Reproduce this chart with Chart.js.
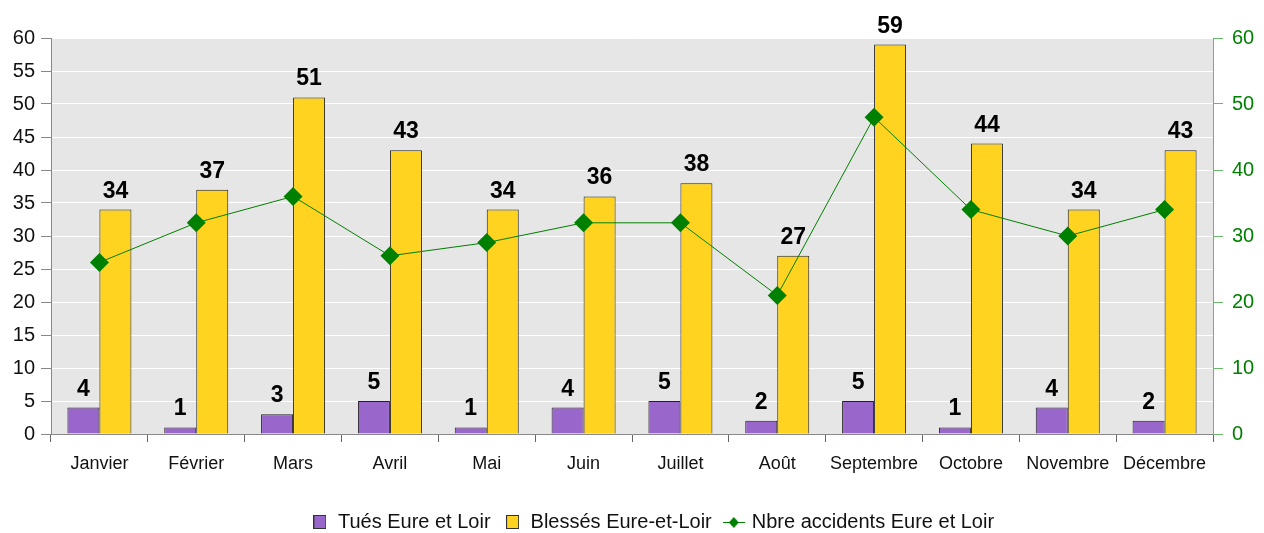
<!DOCTYPE html>
<html lang="fr">
<head>
    <meta charset="UTF-8">
    <title>Accidents Eure et Loir</title>
    <script src="https://cdn.jsdelivr.net/npm/chart.js"></script>
    <style>
        html, body {
            margin: 0;
            padding: 0;
            background: #ffffff;
        }
        #wrap {
            width: 1264px;
            height: 533px;
        }
    </style>
</head>
<body>
    <div id="wrap"><canvas id="chart"></canvas></div>

    <script>
        const months = ['Janvier', 'Février', 'Mars', 'Avril', 'Mai', 'Juin', 'Juillet', 'Août', 'Septembre', 'Octobre', 'Novembre', 'Décembre'];
        const tues = [4, 1, 3, 5, 1, 4, 5, 2, 5, 1, 4, 2];
        const blesses = [34, 37, 51, 43, 34, 36, 38, 27, 59, 44, 34, 43];
        const accidents = [26, 32, 36, 27, 29, 32, 32, 21, 48, 34, 30, 34];

        const FONT = '"Liberation Sans", Arial, sans-serif';
        const PURPLE = '#9966cc';
        const YELLOW = '#ffd320';
        const GREEN = '#008000';

        // small legend icons
        function boxIcon(color) {
            const c = document.createElement('canvas');
            c.width = 13; c.height = 14;
            const g = c.getContext('2d');
            g.fillStyle = color;
            g.fillRect(0, 0, 13, 14);
            g.strokeStyle = '#333';
            g.lineWidth = 1;
            g.strokeRect(0.5, 0.5, 12, 13);
            return c;
        }
        function lineIcon() {
            const c = document.createElement('canvas');
            c.width = 22; c.height = 14;
            const g = c.getContext('2d');
            g.strokeStyle = GREEN;
            g.lineWidth = 1;
            g.beginPath();
            g.moveTo(0, 7.5); g.lineTo(22, 7.5);
            g.stroke();
            g.fillStyle = GREEN;
            g.beginPath();
            g.moveTo(11, 2); g.lineTo(16, 7.5); g.lineTo(11, 13); g.lineTo(6, 7.5);
            g.closePath();
            g.fill();
            return c;
        }
        const icons = [boxIcon(PURPLE), boxIcon(YELLOW), lineIcon()];

        const plotBackground = {
            id: 'plotBackground',
            beforeDraw(chart) {
                const a = chart.chartArea;
                const ctx = chart.ctx;
                ctx.save();
                ctx.fillStyle = '#e6e6e6';
                ctx.fillRect(a.left, a.top, a.right - a.left, a.bottom - a.top);
                ctx.restore();
            }
        };

        // the legend in the original sits a little right of centre
        const legendShift = {
            id: 'legendShift',
            afterLayout(chart) {
                if (chart.legend) {
                    chart.legend.left += 21;
                    chart.legend.right += 21;
                }
            }
        };

        const barValues = {
            id: 'barValues',
            afterDatasetsDraw(chart) {
                const ctx = chart.ctx;
                ctx.save();
                ctx.font = 'bold 23px ' + FONT;
                ctx.fillStyle = '#000';
                ctx.textAlign = 'center';
                ctx.textBaseline = 'alphabetic';
                chart.data.datasets.forEach((ds, i) => {
                    if (ds.type !== 'bar') return;
                    chart.getDatasetMeta(i).data.forEach((el, j) => {
                        ctx.fillText(String(ds.data[j]), el.x, el.y - 12);
                    });
                });
                ctx.restore();
            }
        };

        new Chart(document.getElementById('chart'), {
            data: {
                labels: months,
                datasets: [
                    {
                        type: 'bar',
                        label: 'Tués Eure et Loir',
                        data: tues,
                        backgroundColor: PURPLE,
                        borderColor: '#222',
                        borderWidth: 1,
                        yAxisID: 'y',
                        order: 1,
                        categoryPercentage: 0.661,
                        barPercentage: 1.0
                    },
                    {
                        type: 'bar',
                        label: 'Blessés Eure-et-Loir',
                        data: blesses,
                        backgroundColor: YELLOW,
                        borderColor: '#222',
                        borderWidth: 1,
                        yAxisID: 'y',
                        order: 1,
                        categoryPercentage: 0.661,
                        barPercentage: 1.0
                    },
                    {
                        type: 'line',
                        label: 'Nbre accidents Eure et Loir',
                        data: accidents,
                        borderColor: GREEN,
                        backgroundColor: GREEN,
                        borderWidth: 1,
                        pointStyle: 'rectRot',
                        pointRadius: 9.5,
                        pointBorderWidth: 0,
                        tension: 0,
                        yAxisID: 'y1',
                        order: 0
                    }
                ]
            },
            options: {
                responsive: true,
                maintainAspectRatio: false,
                animation: false,
                layout: {
                    padding: { top: 38, left: 0, right: 0, bottom: -9 }
                },
                plugins: {
                    tooltip: { enabled: false },
                    legend: {
                        position: 'bottom',
                        labels: {
                            usePointStyle: true,
                            boxWidth: 16,
                            boxHeight: 14,
                            padding: 14,
                            color: '#111',
                            font: { family: FONT, size: 20 },
                            generateLabels(chart) {
                                return chart.data.datasets.map((ds, i) => ({
                                    text: ds.label,
                                    datasetIndex: i,
                                    pointStyle: icons[i],
                                    fillStyle: ds.backgroundColor,
                                    strokeStyle: ds.borderColor,
                                    lineWidth: 0,
                                    hidden: false,
                                    fontColor: '#111'
                                }));
                            }
                        }
                    }
                },
                scales: {
                    x: {
                        offset: true,
                        grid: {
                            offset: true,
                            drawOnChartArea: false,
                            tickLength: 8,
                            tickColor: '#666'
                        },
                        border: { color: '#888' },
                        ticks: {
                            color: '#111',
                            padding: 11,
                            maxRotation: 0,
                            font: { family: FONT, size: 18 }
                        },
                        afterFit(scale) { scale.height = 64; }
                    },
                    y: {
                        position: 'left',
                        min: 0,
                        max: 60,
                        ticks: {
                            stepSize: 5,
                            color: '#111',
                            padding: 6,
                            font: { family: FONT, size: 20 }
                        },
                        grid: {
                            color: '#ffffff',
                            lineWidth: 1,
                            tickLength: 10,
                            tickColor: '#888'
                        },
                        border: { color: '#888' },
                        afterFit(scale) { scale.width = 51; }
                    },
                    y1: {
                        position: 'right',
                        min: 0,
                        max: 60,
                        ticks: {
                            stepSize: 10,
                            color: GREEN,
                            padding: 9,
                            font: { family: FONT, size: 20 }
                        },
                        grid: {
                            drawOnChartArea: false,
                            tickLength: 10,
                            tickColor: '#6ab86a'
                        },
                        border: { color: '#6ab86a' },
                        afterFit(scale) { scale.width = 51; }
                    }
                }
            },
            plugins: [plotBackground, legendShift, barValues]
        });
    </script>
</body>
</html>
